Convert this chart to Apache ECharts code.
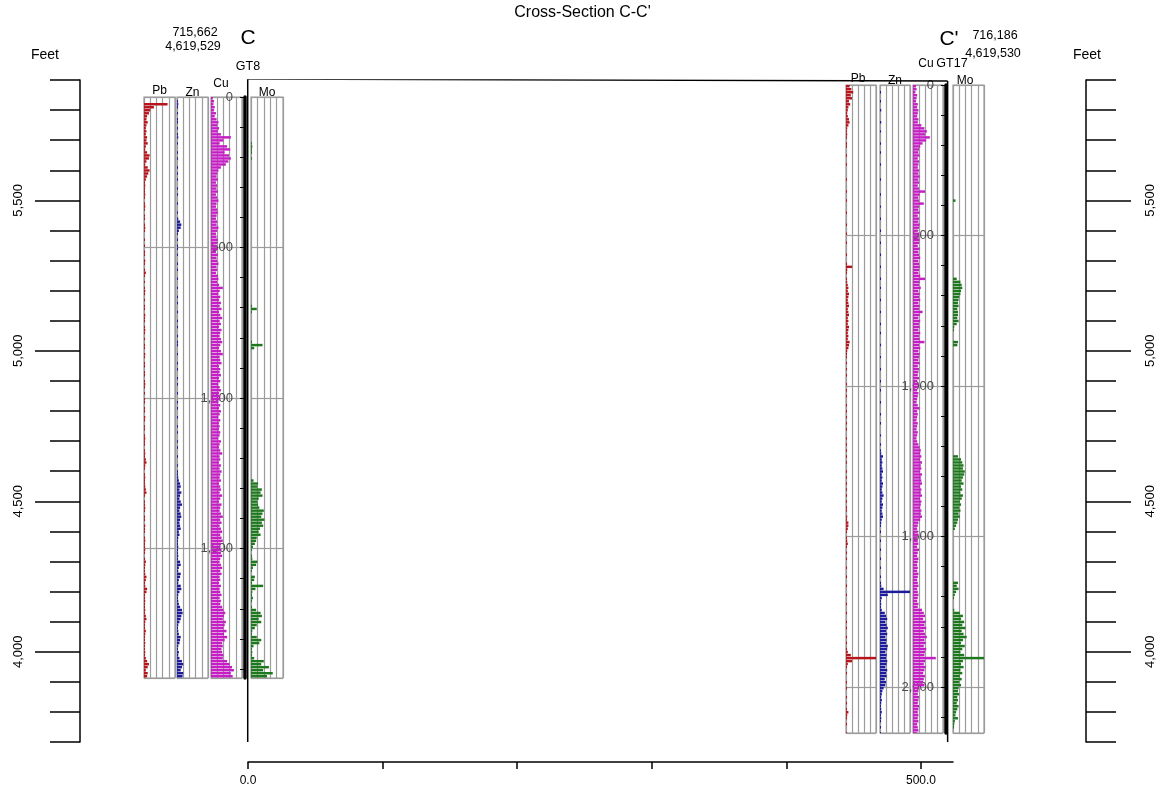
<!DOCTYPE html>
<html>
<head>
<meta charset="utf-8">
<title>Cross-Section C-C'</title>
<script src="https://cdn.jsdelivr.net/npm/echarts@6/dist/echarts.min.js"></script>
<style>
  html, body { margin: 0; padding: 0; background: #fff; }
  #chart { width: 1165px; height: 793px; }
</style>
</head>
<body>
<div id="chart"></div>
<script>
// ---- Data ---------------------------------------------------------------
// Assay intervals are 10 ft long; each array entry is one interval, from 0 ft down.
// Values are in strip-log columns (0 to 5 across a track).
const STEP = 10;

// Elevation (ft) and distance (ft) scales of the section
const elevMin = 3700, elevMax = 5900;
const elevLabels = [4000, 4500, 5000, 5500];
const distTicks = [0, 100, 200, 300, 400, 500];
const distLabels = [0, 500];

// Drill holes: distance along section, collar elevation, logged depth
const holeNames = ['GT8', 'GT17'];
const holeDist = [0, 520];
const holeCollar = [5903, 5897];
const holeDepth = [1930, 2153];
const gt8DepthTicks = [0,100,200,300,400,500,600,700,800,900,1000,1100,1200,1300,1400,1500,1600,1700,1800,1900];
const gt8DepthLabels = [0, 500, 1000, 1500];
const gt17DepthTicks = [0,100,200,300,400,500,600,700,800,900,1000,1100,1200,1300,1400,1500,1600,1700,1800,1900,2000,2100];
const gt17DepthLabels = [0, 500, 1000, 1500, 2000];

// GT8 assays
const gt8Pb = [
  0,0,3.8,1.6,1.0,0.8,0.5,0.4,0.6,0.4,
  0.3,0.4,0.3,0.5,0.4,0.6,0.3,0.2,0.5,0.9,
  0.8,0.4,0.2,0.6,0.9,0.7,0.5,0.3,0.1,0.2,
  0.1,0.1,0.2,0.1,0,0.1,0.2,0.1,0,0.1,
  0.1,0,0.1,0.2,0.1,0,0,0.1,0,0.1,
  0,0.1,0.1,0,0.2,0.1,0,0.1,0.3,0.1,
  0,0.1,0,0.1,0.2,0.1,0,0.1,0,0.1,
  0.1,0,0.2,0.1,0.1,0,0.1,0.2,0.1,0,
  0.1,0,0.1,0.1,0,0.2,0.1,0,0.1,0.1,
  0,0.1,0.1,0,0.1,0.2,0.1,0,0.1,0,
  0.1,0.1,0,0.1,0.1,0,0.2,0.1,0,0.1,
  0.1,0,0.1,0.2,0.1,0.1,0,0.1,0.2,0.1,
  0.3,0.4,0.2,0.1,0,0.1,0.2,0.1,0.1,0.2,
  0.3,0.4,0.1,0,0.1,0.1,0.2,0.1,0,0.1,
  0.1,0,0.2,0.1,0.1,0,0.1,0.2,0.1,0.1,
  0.2,0.1,0,0.1,0.3,0.2,0.1,0.1,0.2,0.4,
  0.3,0.1,0.2,0.5,0.4,0.1,0.1,0.2,0.1,0.1,
  0.2,0.1,0.3,0.4,0.2,0.1,0.1,0.3,0.2,0.1,
  0.1,0.2,0.1,0.1,0.2,0.1,0.3,0.5,0.8,0.6,
  0.3,0.6,0.5
];
const gt8Zn = [
  0,0.1,0.2,0.1,0,0.1,0,0.1,0.1,0,
  0.1,0,0.1,0.2,0,0.1,0,0,0.1,0,
  0.1,0,0,0.1,0,0.1,0,0.1,0,0,
  0.1,0,0.1,0,0,0.1,0,0,0.1,0,
  0.2,0.5,0.7,0.6,0.3,0.1,0,0.1,0,0.1,
  0.1,0,0.1,0,0,0.1,0,0.1,0,0,
  0.1,0,0,0.1,0,0,0.1,0,0.1,0,
  0,0.1,0,0,0.1,0,0.1,0,0,0.1,
  0,0.1,0.1,0,0,0.1,0,0,0.1,0,
  0.1,0,0,0.1,0,0.1,0,0,0.1,0,
  0,0.1,0,0.1,0,0,0.1,0,0,0.1,
  0,0.1,0,0,0.1,0,0.1,0,0,0.1,
  0,0,0.1,0,0.1,0.1,0.2,0.3,0.5,0.6,
  0.4,0.7,0.5,0.4,0.6,0.8,0.5,0.4,0.6,0.7,
  0.5,0.4,0.5,0.6,0.3,0.4,0.2,0.1,0.1,0.2,
  0.1,0.1,0.2,0.1,0.5,0.6,0.3,0.2,0.6,0.5,
  0.3,0.2,0.6,0.7,0.4,0.2,0.1,0.2,0.3,0.5,
  0.8,0.9,0.7,0.6,0.4,0.2,0.1,0.2,0.3,0.6,
  0.5,0.4,0.2,0.1,0.3,0.2,0.4,0.8,1.0,0.8,
  0.6,1.0,0.9
];
const gt8Cu = [
  0.3,0.5,0.4,0.6,0.5,0.8,0.6,0.9,1.2,1.0,
  1.3,1.1,1.6,3.2,2.0,1.4,2.6,3.1,2.2,2.9,
  3.2,2.8,2.4,1.6,1.2,1.0,0.9,1.1,0.8,1.0,
  0.9,1.1,0.8,1.0,1.2,0.9,0.8,1.0,1.1,0.9,
  0.8,1.0,0.9,1.2,1.0,0.8,0.9,1.1,1.0,0.9,
  1.0,0.8,1.1,0.9,1.0,1.2,0.9,1.0,0.8,1.1,
  1.2,1.0,1.3,1.9,1.4,1.2,1.5,1.3,1.6,1.4,
  1.7,1.3,1.5,1.8,1.4,1.6,1.3,1.7,1.5,1.4,
  1.6,1.8,1.5,1.3,1.6,1.9,1.4,1.5,1.7,1.3,
  1.5,1.4,1.6,1.3,1.5,1.2,1.4,1.6,1.3,1.5,
  1.4,1.2,1.5,1.3,1.6,1.4,1.2,1.5,1.3,1.4,
  1.3,1.5,1.4,1.2,1.6,1.4,1.3,1.5,1.8,1.4,
  1.5,1.3,1.6,1.4,1.7,1.5,1.4,1.6,1.3,1.5,
  1.6,1.4,1.8,1.5,1.3,1.7,1.5,1.4,1.6,1.9,
  1.5,1.7,1.4,1.6,1.8,1.5,1.7,1.9,1.6,1.5,
  1.7,1.6,1.8,1.5,1.4,1.6,1.8,1.5,1.7,1.4,
  1.5,1.3,1.6,1.4,1.5,1.7,1.4,1.6,1.5,1.8,
  2.0,2.3,2.1,1.9,2.4,2.2,2.0,2.5,2.1,2.6,
  2.2,1.8,1.9,1.7,1.8,2.0,1.9,2.6,3.0,3.4,
  3.7,3.2,3.5
];
const gt8Mo = [
  0,0,0,0,0,0,0,0,0,0,
  0,0,0,0,0,0.1,0.2,0.1,0.1,0,
  0.1,0,0,0,0,0,0,0,0,0,
  0,0,0,0,0,0,0,0,0,0,
  0,0,0,0,0,0,0,0,0,0,
  0,0,0,0,0,0,0,0,0,0,
  0,0,0,0,0,0,0,0,0,0.1,
  0.9,0.1,0,0,0,0,0,0,0,0,
  0,0.1,1.8,0.5,0,0,0,0,0,0,
  0,0,0,0,0,0,0,0,0,0,
  0,0,0,0,0,0,0,0,0,0,
  0,0,0,0,0,0,0,0,0,0,
  0,0,0,0,0,0,0,0.4,1.1,1.0,
  1.7,1.5,1.8,1.2,1.0,1.1,1.3,2.0,1.8,1.6,
  2.1,1.7,1.9,1.4,1.2,1.5,0.9,0.8,0.6,0.3,
  0.1,0,0.1,0.2,1.0,0.8,0.3,0.1,0,0.6,
  0.5,0.1,1.9,0.7,0.2,0.1,0.3,0.1,0,0.1,
  0.8,1.5,1.7,1.2,1.6,0.9,0.6,0.2,0.1,0.9,
  1.6,1.3,0.4,0.1,0.2,0.1,0.5,2.0,1.6,2.8,
  1.9,3.4,2.5
];

// GT17 assays
const gt17Pb = [
  0.6,0.9,1.2,0.8,1.0,0.5,0.7,0.4,0.3,0.2,
  0.3,0.5,0.6,0.4,0.2,0.1,0.2,0.1,0,0.1,
  0.1,0,0,0.1,0,0,0.1,0,0,0,
  0,0.1,0,0,0,0.1,0,0,0.1,0,
  0,0,0.1,0,0,0,0.1,0,0,0.1,
  0,0,0.1,0,0,0,0.1,0,0,0.1,
  1.0,0.2,0.1,0,0.1,0.2,0.3,0.4,0.3,0.5,
  0.4,0.3,0.4,0.5,0.3,0.4,0.5,0.3,0.4,0.3,
  0.5,0.4,0.3,0.4,0.3,0.6,0.5,0.4,0.2,0.1,
  0.1,0,0.1,0,0.1,0,0.1,0,0,0.1,
  0,0.1,0,0.1,0,0,0.1,0,0.1,0,
  0.1,0,0.1,0,0.1,0,0,0.1,0,0.1,
  0,0.1,0,0.1,0,0.1,0,0,0.1,0,
  0.1,0,0.1,0,0.1,0,0.1,0,0.1,0,
  0.1,0.1,0,0.2,0.1,0.4,0.4,0.3,0.1,0,
  0.1,0.2,0.3,0.1,0,0.1,0,0.1,0,0,
  0.1,0,0,0.1,0,0,0.1,0,0,0.1,
  0,0,0.1,0,0,0.1,0,0,0.1,0,
  0.1,0,0,0.1,0,0.1,0,0.1,0.3,0.8,
  5.0,1.0,0.3,0.1,0,0.1,0,0,0.1,0,
  0.1,0,0,0.1,0,0.1,0,0.1,0.4,0.2,
  0.1,0,0.1,0,0,0.1
];
const gt17Zn = [
  0,0,0.1,0,0,0.1,0,0,0.2,0,
  0,0,0.2,0,0,0.1,0,0,0,0.1,
  0,0,0.1,0,0,0,0.1,0,0,0,
  0,0.1,0,0,0,0,0.1,0,0,0,
  0.1,0,0,0,0.1,0,0,0,0.1,0,
  0,0,0.1,0,0,0,0.1,0,0,0,
  0.1,0,0,0,0.1,0,0,0.1,0,0,
  0,0.1,0,0,0,0.1,0,0,0,0.1,
  0,0,0.1,0,0,0,0.1,0,0,0,
  0.1,0,0,0,0.1,0,0,0,0.1,0,
  0,0.1,0,0,0,0.1,0,0,0,0.1,
  0,0,0.1,0,0,0,0.1,0,0,0.1,
  0,0.1,0.2,0.5,0.3,0.4,0.3,0.4,0.5,0.3,
  0.4,0.3,0.5,0.4,0.3,0.4,0.6,0.4,0.3,0.5,
  0.4,0.3,0.4,0.5,0.3,0.2,0.1,0,0.1,0,
  0,0.1,0,0,0.1,0,0,0.1,0,0,
  0.1,0,0,0.1,0,0.1,0.2,0.6,5.0,1.3,
  0.3,0.1,0.2,0.1,0.3,0.8,1.0,1.2,0.9,1.1,
  1.3,1.0,1.2,0.9,1.1,1.0,1.3,1.2,0.9,1.1,
  1.0,1.2,1.1,0.9,1.2,1.0,1.1,0.8,1.0,0.9,
  0.6,0.4,0.3,0.2,0.3,0.2,0.1,0.2,0.3,0.1,
  0.2,0.1,0,0.1,0,0.1
];
const gt17Cu = [
  0.5,0.6,0.4,0.7,0.6,0.5,0.8,0.7,0.9,0.8,
  0.7,0.9,0.8,1.4,1.9,2.3,2.0,2.8,2.2,1.6,
  1.2,1.0,0.9,1.1,0.8,1.0,0.9,0.8,1.0,0.9,
  1.1,0.9,1.0,0.8,1.0,2.0,1.1,0.9,1.0,1.8,
  1.0,0.9,1.1,0.8,1.0,0.9,1.1,1.0,0.8,1.0,
  0.9,1.1,1.0,0.8,1.1,0.9,1.0,1.2,0.9,1.0,
  1.1,1.0,0.9,1.2,2.0,1.1,1.0,1.3,0.9,1.1,
  1.0,1.2,0.9,1.1,1.0,1.6,1.1,0.9,1.2,1.0,
  1.1,0.9,1.2,1.0,1.1,1.9,1.0,1.2,0.9,1.1,
  1.0,0.9,1.1,0.8,1.0,0.9,0.8,1.0,0.7,0.9,
  0.8,0.7,0.9,0.8,0.7,0.6,0.8,1.1,0.7,0.8,
  0.7,0.6,0.8,0.7,0.6,0.8,0.7,0.6,0.7,0.9,
  1.1,1.3,1.2,1.4,1.2,1.5,1.3,1.4,1.2,1.5,
  1.3,1.4,1.5,1.2,1.4,1.3,1.5,1.2,1.4,1.3,
  1.2,1.4,1.3,1.5,1.2,0.9,0.8,0.7,0.8,0.9,
  0.7,0.8,0.9,0.7,1.0,0.8,0.7,0.9,0.8,0.7,
  0.8,0.7,0.9,0.8,0.7,0.8,0.9,0.7,0.8,0.9,
  0.8,0.7,0.9,0.8,1.5,1.8,2.0,1.7,2.1,1.9,
  2.2,1.8,2.0,2.3,1.9,2.1,1.8,2.2,2.0,1.9,
  3.8,2.0,1.8,2.1,1.9,1.7,2.0,1.8,1.7,1.9,
  1.0,0.9,0.8,1.0,0.9,0.8,1.0,0.9,0.8,0.9,
  0.8,0.9,0.7,0.8,0.9,0.7
];
const gt17Mo = [
  0,0,0,0,0,0,0,0,0,0,
  0,0,0,0,0,0,0,0,0,0,
  0,0,0,0,0,0,0,0,0,0,
  0,0,0,0,0,0,0,0,0.4,0,
  0,0,0,0,0,0,0,0,0,0,
  0,0,0,0,0,0,0,0,0,0,
  0,0,0,0,0.6,1.2,1.4,1.5,1.3,1.2,
  1.0,0.9,0.8,0.9,0.7,0.8,0.8,0.7,0.9,0.6,
  0.2,0.1,0,0,0,0.8,0.7,0,0,0,
  0,0,0,0,0,0,0,0,0,0,
  0,0,0,0,0,0,0,0,0,0,
  0,0,0,0,0,0,0,0,0,0,
  0,0,0,0.8,1.3,1.5,1.7,1.6,1.9,1.8,
  1.6,1.4,1.7,1.3,1.5,1.2,1.6,1.4,1.1,1.3,
  1.0,1.2,0.9,1.1,0.8,0.7,0.5,0.3,0,0,
  0,0,0,0,0,0,0,0,0,0,
  0,0,0,0,0,0.8,0.6,0.9,0.5,0.3,
  0.1,0,0,0,0.2,1.1,1.6,1.3,1.8,1.5,
  2.0,1.4,1.7,2.2,1.6,1.3,1.9,1.5,1.2,1.8,
  5.0,1.6,1.3,1.7,1.2,1.5,1.1,1.4,1.0,1.3,
  0.9,0.8,1.0,0.7,0.8,0.6,0.9,0.7,0.5,0.4,
  0.8,0.3,0.2,0.1,0,0
];

// ---- Layout -------------------------------------------------------------
const FONT = '"Liberation Sans", Arial, sans-serif';
const GRID_GREY = '#9c9c9c';
const COLORS = { Pb: '#b8141c', Zn: '#1c1c9c', Cu: '#c41ec4', Mo: '#1e781e' };

// Strip-log tracks beside each hole (pixel boxes)
const tracks = [
  { metal: 'Pb', values: gt8Pb,  hole: 0, left: 144, width: 31, top: 97, height: 581, labelY: 91 },
  { metal: 'Zn', values: gt8Zn,  hole: 0, left: 177, width: 31, top: 97, height: 581, labelY: 93 },
  { metal: 'Cu', values: gt8Cu,  hole: 0, left: 211, width: 31, top: 97, height: 581, labelY: 84, labelX: 221 },
  { metal: 'Mo', values: gt8Mo,  hole: 0, left: 251, width: 32, top: 97, height: 581, labelY: 93 },
  { metal: 'Pb', values: gt17Pb, hole: 1, left: 846, width: 30, top: 85, height: 648, labelY: 79, labelX: 858 },
  { metal: 'Zn', values: gt17Zn, hole: 1, left: 880, width: 30, top: 85, height: 648, labelY: 81 },
  { metal: 'Cu', values: gt17Cu, hole: 1, left: 913, width: 30, top: 85, height: 648, labelY: 64, labelX: 926 },
  { metal: 'Mo', values: gt17Mo, hole: 1, left: 953, width: 31, top: 85, height: 648, labelY: 81, labelX: 965 }
];

// Depth scales drawn on each hole
const depthAxes = [
  { x: 245, top: 97, height: 581, ticks: gt8DepthTicks, labels: gt8DepthLabels },
  { x: 946, top: 85, height: 648, ticks: gt17DepthTicks, labels: gt17DepthLabels }
];

const fmtThousands = v => Number(v).toLocaleString('en-US');

const grids = [];
const xAxes = [];
const yAxes = [];
const series = [];

// Section frame: distance (x) vs elevation (y)
grids.push({ left: 80, top: 80, width: 1006, height: 662 });
xAxes.push({ gridIndex: 0, type: 'value', min: -124.6, max: 622.8, show: false });
const elevAxisBase = {
  gridIndex: 0, type: 'value', min: elevMin, max: elevMax,
  splitLine: { show: false }
};
['left', 'right'].forEach(pos => {
  yAxes.push(Object.assign({}, elevAxisBase, {
    position: pos, interval: 100,
    axisLine: { show: true, onZero: false, lineStyle: { color: '#000', width: 1.5 } },
    axisTick: { show: true, length: 30, lineStyle: { color: '#000', width: 1.5 } },
    axisLabel: { show: false }
  }));
  yAxes.push(Object.assign({}, elevAxisBase, {
    position: pos,
    axisLine: { show: false, onZero: false },
    axisTick: { show: true, customValues: elevLabels, length: 45, lineStyle: { color: '#000', width: 1.5 } },
    axisLabel: {
      show: true, customValues: elevLabels, rotate: 90, margin: pos === 'left' ? 55 : 58,
      formatter: fmtThousands, color: '#000', fontSize: 13, fontFamily: FONT
    }
  }));
});

// Collar line between the holes, and the hole traces
series.push({
  type: 'line', xAxisIndex: 0, yAxisIndex: 0, symbol: 'none', silent: true,
  data: [[holeDist[0], holeCollar[0]], [holeDist[1], holeCollar[1]]],
  lineStyle: { color: '#000', width: 1.5 }
});
holeNames.forEach((n, i) => {
  series.push({
    type: 'line', xAxisIndex: 0, yAxisIndex: 0, symbol: 'none', silent: true,
    data: [[holeDist[i], holeCollar[i]], [holeDist[i], elevMin]],
    lineStyle: { color: '#000', width: 1.5 }
  });
});

// Distance scale along the bottom
grids.push({ left: 248, top: 700, width: 705, height: 62 });
xAxes.push({
  gridIndex: 1, type: 'value', min: 0, max: 523.8, position: 'bottom',
  axisLine: { show: true, onZero: false, lineStyle: { color: '#000', width: 1.5 } },
  axisTick: { show: true, customValues: distTicks, length: 7, lineStyle: { color: '#000', width: 1.5 } },
  axisLabel: {
    show: true, customValues: distLabels, margin: 13,
    formatter: v => Number(v).toFixed(1), color: '#000', fontSize: 12, fontFamily: FONT
  },
  splitLine: { show: false }
});
yAxes.push({ gridIndex: 1, type: 'value', show: false, min: 0, max: 1 });

// Strip-log tracks: each assay interval is a bar from 0 out to its value
function renderBar(color) {
  return function (params, api) {
    const d = api.value(0);
    const v = api.value(1);
    if (!v) return null;
    const p0 = api.coord([0, d]);
    const p1 = api.coord([v, d + STEP]);
    const h = (p1[1] - p0[1]) * 0.82;
    return {
      type: 'rect',
      shape: { x: p0[0], y: p0[1], width: Math.max(1, p1[0] - p0[0]), height: h },
      style: { fill: color }
    };
  };
}

const graphics = [];
tracks.forEach(t => {
  const gi = grids.length;
  const xi = xAxes.length;
  const yi = yAxes.length;
  const maxDepth = holeDepth[t.hole];
  grids.push({
    left: t.left, top: t.top, width: t.width, height: t.height,
    show: true, borderColor: GRID_GREY, borderWidth: 1.2, backgroundColor: 'transparent'
  });
  xAxes.push({
    gridIndex: gi, type: 'value', min: 0, max: 5, interval: 1, position: 'top',
    axisLine: { show: false, onZero: false }, axisTick: { show: false }, axisLabel: { show: false },
    splitLine: { show: true, lineStyle: { color: GRID_GREY, width: 1.2 } }
  });
  yAxes.push({
    gridIndex: gi, type: 'value', min: 0, max: maxDepth, interval: 500, inverse: true,
    axisLine: { show: false, onZero: false }, axisTick: { show: false }, axisLabel: { show: false },
    splitLine: { show: true, lineStyle: { color: GRID_GREY, width: 1.2 } }
  });
  series.push({
    type: 'custom', coordinateSystem: 'cartesian2d',
    xAxisIndex: xi, yAxisIndex: yi, silent: true, clip: true,
    encode: { x: 1, y: 0 },
    data: t.values.map((v, k) => [k * STEP, v]),
    renderItem: renderBar(COLORS[t.metal])
  });
  graphics.push({
    type: 'text', x: t.labelX !== undefined ? t.labelX : t.left + t.width / 2, y: t.labelY,
    style: { text: t.metal, font: '12px ' + FONT, fill: '#000', textAlign: 'center', textVerticalAlign: 'middle', align: 'center', verticalAlign: 'middle' }
  });
});

// Depth scales on the holes (drawn last so they sit above the tracks)
depthAxes.forEach((a, i) => {
  const gi = grids.length;
  grids.push({ left: a.x, top: a.top, width: 1, height: a.height });
  xAxes.push({ gridIndex: gi, type: 'value', show: false, min: 0, max: 1 });
  yAxes.push({
    gridIndex: gi, type: 'value', min: 0, max: holeDepth[i], inverse: true, position: 'left',
    axisLine: { show: true, onZero: false, lineStyle: { color: '#000', width: 3.5 } },
    axisTick: { show: true, customValues: a.ticks, length: 5, lineStyle: { color: '#000', width: 1 } },
    axisLabel: {
      show: true, customValues: a.labels, margin: 12, formatter: fmtThousands,
      color: '#4a4a4a', fontSize: 13, fontFamily: FONT
    },
    splitLine: { show: false }
  });
});

// Section annotations
const textItem = (text, x, y, size, align) => ({
  type: 'text', x, y, z: 100,
  style: {
    text, font: size + 'px ' + FONT, fill: '#000',
    textAlign: align || 'center', textVerticalAlign: 'middle',
    align: align || 'center', verticalAlign: 'middle'
  }
});
graphics.push(
  textItem('Feet', 45, 55, 14),
  textItem('Feet', 1087, 55, 14),
  textItem('715,662', 195, 33, 12.5),
  textItem('4,619,529', 193, 47, 12.5),
  textItem('C', 248, 38, 21),
  textItem('GT8', 248, 67, 12.5),
  textItem("C'", 949, 39, 21),
  textItem('716,186', 995, 36, 12.5),
  textItem('4,619,530', 993, 54, 12.5),
  textItem('GT17', 952, 64, 12.5)
);

const chart = echarts.init(document.getElementById('chart'), null, { renderer: 'canvas' });
chart.setOption({
  animation: false,
  backgroundColor: '#fff',
  textStyle: { fontFamily: FONT },
  title: {
    text: "Cross-Section C-C'", left: 'center', top: 0,
    textStyle: { fontSize: 16, fontWeight: 'normal', color: '#000', fontFamily: FONT }
  },
  grid: grids,
  xAxis: xAxes,
  yAxis: yAxes,
  series: series,
  graphic: { elements: graphics }
});
</script>
</body>
</html>
